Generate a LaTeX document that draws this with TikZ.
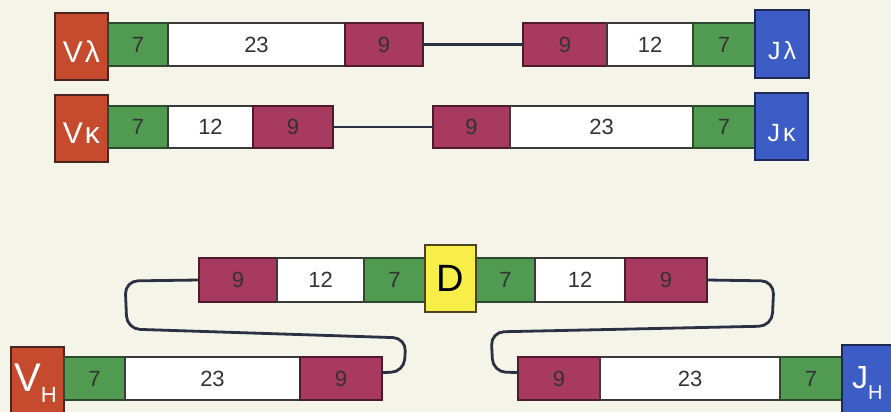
\documentclass[tikz,border=0pt]{standalone}
\usepackage{fontspec}
\setmainfont{Liberation Sans}
\usetikzlibrary{fit}

\definecolor{paper}{HTML}{F5F4E8}
\definecolor{vfill}{HTML}{C64B2E}
\definecolor{vdraw}{HTML}{4A2520}
\definecolor{jfill}{HTML}{3C5CC6}
\definecolor{jdraw}{HTML}{1E2A55}
\definecolor{gfill}{HTML}{519A52}
\definecolor{gdraw}{HTML}{2D4A2D}
\definecolor{pfill}{HTML}{A83A60}
\definecolor{pdraw}{HTML}{4E1A2C}
\definecolor{wdraw}{HTML}{3A3A3A}
\definecolor{dfill}{HTML}{F8EE48}
\definecolor{ddraw}{HTML}{4A4220}
\definecolor{numcol}{HTML}{333333}
\definecolor{linkcol}{HTML}{2A3142}

\tikzset{
  segbase/.style={line width=1.5pt, inner sep=0pt, outer sep=0pt},
  segtext/.style={text=numcol, inner sep=0pt, font=\fontsize{22}{22}\selectfont},
  gseg/.style={segbase, fill=gfill, draw=gdraw, label={[segtext]center:#1}},
  wseg/.style={segbase, fill=white, draw=wdraw, label={[segtext]center:#1}},
  pseg/.style={segbase, fill=pfill, draw=pdraw, label={[segtext]center:#1}},
  vbox/.style={segbase, fill=vfill, draw=vdraw},
  jbox/.style={segbase, fill=jfill, draw=jdraw},
  dbox/.style={segbase, fill=dfill, draw=ddraw},
  gene/.style={text=white, inner sep=0pt},
  link/.style={draw=linkcol, line width=2.8pt, rounded corners=13pt, line cap=round},
}

\begin{document}
\begin{tikzpicture}[x=1pt, y=-1pt]
  \clip (0,0) rectangle (891,412);
  \fill[paper] (0,0) rectangle (891,412);

  % lambda chain
  \node[vbox, fit={(55,13) (108,80)}] (r1v) {};
  \node[gseg=7, fit={(108,23) (168,66)}] (r1g1) {};
  \node[wseg=23, fit={(168,23) (345,66)}] (r1w1) {};
  \node[pseg=9, fit={(345,23) (423,66)}] (r1p1) {};
  \node[pseg=9, fit={(523,23) (607,66)}] (r1p2) {};
  \node[wseg=12, fit={(607,23) (693,66)}] (r1w2) {};
  \node[gseg=7, fit={(693,23) (755,66)}] (r1g2) {};
  \node[jbox, fit={(755,10) (809,78)}] (r1j) {};
  \node[gene, font=\fontsize{30}{30}\selectfont] at ([yshift=-5pt]r1v.center) {V\hspace{2pt}λ};
  \node[gene, font=\fontsize{25}{25}\selectfont] at ([yshift=-7pt]r1j.center) {J\hspace{3pt}λ};
  \draw[link] (r1p1.east) -- (r1p2.west);

  % kappa chain
  \node[vbox, fit={(55,95) (108,162)}] (r2v) {};
  \node[gseg=7, fit={(108,106) (168,148)}] (r2g1) {};
  \node[wseg=12, fit={(168,106) (253,148)}] (r2w1) {};
  \node[pseg=9, fit={(253,106) (333,148)}] (r2p1) {};
  \node[pseg=9, fit={(433,106) (510,148)}] (r2p2) {};
  \node[wseg=23, fit={(510,106) (693,148)}] (r2w2) {};
  \node[gseg=7, fit={(693,106) (755,148)}] (r2g2) {};
  \node[jbox, fit={(755,93) (808,160)}] (r2j) {};
  \node[gene, font=\fontsize{30}{30}\selectfont] at ([yshift=-5pt]r2v.center) {V\hspace{2pt}κ};
  \node[gene, font=\fontsize{25}{25}\selectfont] at ([yshift=-7pt]r2j.center) {J\hspace{3pt}κ};
  \draw[link] (r2p1.east) -- (r2p2.west);

  % heavy chain D region
  \node[pseg=9, fit={(199,258) (277,302)}] (r3p1) {};
  \node[wseg=12, fit={(277,258) (364,302)}] (r3w1) {};
  \node[gseg=7, fit={(364,258) (425,302)}] (r3g1) {};
  \node[gseg=7, fit={(476,258) (535,302)}] (r3g2) {};
  \node[wseg=12, fit={(535,258) (625,302)}] (r3w2) {};
  \node[pseg=9, fit={(625,258) (707,302)}] (r3p2) {};
  \node[dbox, fit={(425,245) (476,312)}] (r3d) {};
  \node[inner sep=0pt, font=\fontsize{38}{38}\selectfont] at (r3d.center) {D};

  % heavy chain V and J
  \node[vbox, fit={(11,347) (64,416)}] (r4v) {};
  \node[gseg=7, fit={(64,357) (125,400)}] (r4g1) {};
  \node[wseg=23, fit={(125,357) (300,400)}] (r4w1) {};
  \node[pseg=9, fit={(300,357) (382,400)}] (r4p1) {};
  \node[pseg=9, fit={(518,357) (600,400)}] (r4p2) {};
  \node[wseg=23, fit={(600,357) (780,400)}] (r4w2) {};
  \node[gseg=7, fit={(780,357) (842,400)}] (r4g2) {};
  \node[jbox, fit={(842,345) (896,416)}] (r4j) {};
  \node[gene, anchor=west, font=\fontsize{40}{40}\selectfont] at (14,383)
    {V\raisebox{-0.28em}{\fontsize{22}{22}\selectfont H}};
  \node[gene, anchor=west, font=\fontsize{32}{32}\selectfont] at (852,383)
    {J\raisebox{-0.32em}{\fontsize{20}{20}\selectfont H}};

  % heavy chain loops
  \draw[link] (r3p1.west) -- (125,281) -- (127,329) -- (406,338)
    -- (404,372) -- ([yshift=6pt]r4p1.east);
  \draw[link] (r3p2.east) -- (774,281) -- (772,326) -- (491,332)
    -- (493,372) -- ([yshift=6pt]r4p2.west);
\end{tikzpicture}
\end{document}
